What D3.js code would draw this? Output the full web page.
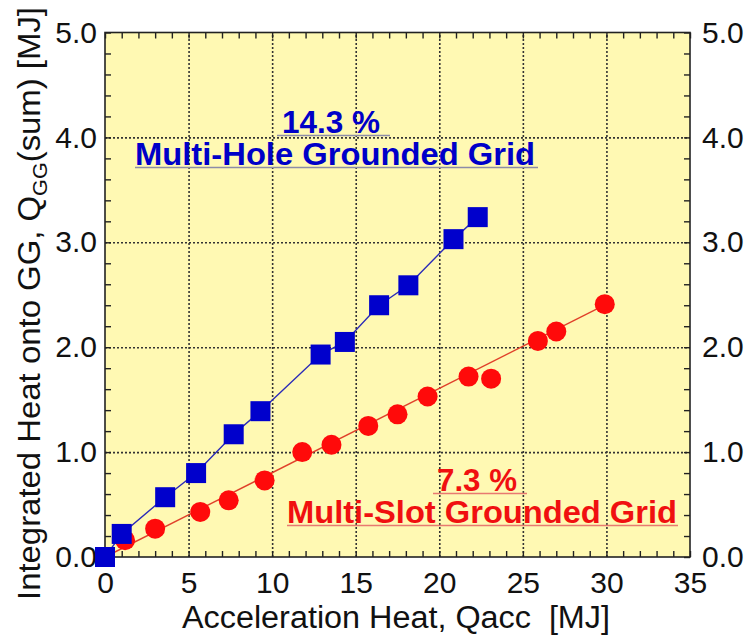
<!DOCTYPE html>
<html>
<head>
<meta charset="utf-8">
<script src="https://cdn.jsdelivr.net/npm/d3@7"></script>
<style>
  body { margin: 0; background: #fff; }
  svg text { font-family: "Liberation Sans", Arial, Helvetica, sans-serif; white-space: pre; }
</style>
</head>
<body>
<svg id="chart" width="751" height="635"></svg>
<script>
// data
const blueX = [0, 1.0, 3.6, 5.45, 7.7, 9.3, 12.9, 14.35, 16.4, 18.15, 20.85, 22.3]
const blueY = [0, 0.22, 0.57, 0.80, 1.17, 1.39, 1.93, 2.05, 2.40, 2.59, 3.03, 3.24]
const redX = [0, 1.2, 3.0, 5.7, 7.4, 9.55, 11.8, 13.55, 15.75, 17.5, 19.3, 21.75, 23.1, 25.9, 27.0, 29.9]
const redY = [0, 0.16, 0.27, 0.43, 0.54, 0.73, 1.00, 1.07, 1.25, 1.36, 1.53, 1.72, 1.70, 2.06, 2.15, 2.41]
// red straight line (fit) end points
const redLineX = [0, 30]
const redLineY = [0, 2.41]

const xTicks = [0, 5, 10, 15, 20, 25, 30, 35]
const yTicks = [0, 1, 2, 3, 4, 5]

const svg = d3.select('#chart')
const pLeft = 105, pRight = 690, pTop = 32.5, pBottom = 557

const x = d3.scaleLinear().domain([0, 35]).range([pLeft, pRight])
const y = d3.scaleLinear().domain([0, 5]).range([pBottom, pTop])

/* plot background */
svg.append('rect')
    .attr('x', pLeft).attr('y', pTop)
    .attr('width', pRight - pLeft).attr('height', pBottom - pTop)
    .attr('fill', '#fff9b3')

/* dotted grid */
const gridX = svg.append('g').attr('transform', `translate(0,${pBottom})`)
    .call(d3.axisBottom(x).tickValues(xTicks.slice(1, -1)).tickSize(-(pBottom - pTop)).tickFormat(''))
const gridY = svg.append('g').attr('transform', `translate(${pLeft},0)`)
    .call(d3.axisLeft(y).tickValues(yTicks.slice(1, -1)).tickSize(-(pRight - pLeft)).tickFormat(''))
;[gridX, gridY].forEach(g => {
    g.select('.domain').remove()
    g.selectAll('line').attr('stroke', '#333').attr('stroke-width', 1.6).attr('stroke-dasharray', '2,2')
})

/* minor ticks, inward on all four sides */
const xMinor = d3.range(0, 35.001, 1)
const yMinor = d3.range(0, 5.001, 0.2)
const tickG = [
    svg.append('g').attr('transform', `translate(0,${pBottom})`).call(d3.axisBottom(x).tickValues(xMinor).tickSize(-6).tickFormat('')),
    svg.append('g').attr('transform', `translate(0,${pTop})`).call(d3.axisTop(x).tickValues(xMinor).tickSize(-6).tickFormat('')),
    svg.append('g').attr('transform', `translate(${pLeft},0)`).call(d3.axisLeft(y).tickValues(yMinor).tickSize(-6).tickFormat('')),
    svg.append('g').attr('transform', `translate(${pRight},0)`).call(d3.axisRight(y).tickValues(yMinor).tickSize(-6).tickFormat(''))
]
tickG.forEach(g => {
    g.select('.domain').remove()
    g.selectAll('line').attr('stroke', '#222').attr('stroke-width', 1.4)
})

/* frame */
svg.append('rect')
    .attr('x', pLeft).attr('y', pTop)
    .attr('width', pRight - pLeft).attr('height', pBottom - pTop)
    .attr('fill', 'none').attr('stroke', '#222').attr('stroke-width', 1.6)

/* tick labels */
const labX = svg.append('g').attr('transform', `translate(0,${pBottom})`)
    .call(d3.axisBottom(x).tickValues(xTicks).tickSize(0).tickPadding(15))
const labL = svg.append('g').attr('transform', `translate(${pLeft},0)`)
    .call(d3.axisLeft(y).tickValues(yTicks).tickSize(0).tickPadding(8).tickFormat(d3.format('.1f')))
const labR = svg.append('g').attr('transform', `translate(${pRight},0)`)
    .call(d3.axisRight(y).tickValues(yTicks).tickSize(0).tickPadding(12).tickFormat(d3.format('.1f')))
;[labX, labL, labR].forEach(g => {
    g.select('.domain').remove()
    g.attr('font-size', null).attr('font-family', null)
    g.selectAll('text').attr('font-size', 30).attr('fill', '#111')
})

/* red fit line and circles */
const line = d3.line().x(d => x(d[0])).y(d => y(d[1]))
svg.append('path')
    .datum(d3.zip(redLineX, redLineY))
    .attr('d', line)
    .attr('fill', 'none').attr('stroke', '#e0402a').attr('stroke-width', 1.4)

svg.selectAll('.red_pt')
    .data(d3.zip(redX, redY))
    .join('circle')
    .classed('red_pt', true)
    .attr('cx', d => x(d[0])).attr('cy', d => y(d[1]))
    .attr('r', 10)
    .attr('fill', '#ff0a0a')

/* blue polyline and squares */
svg.append('path')
    .datum(d3.zip(blueX, blueY))
    .attr('d', line)
    .attr('fill', 'none').attr('stroke', '#2a2ab8').attr('stroke-width', 1.4)

const sq = 20
svg.selectAll('.blue_pt')
    .data(d3.zip(blueX, blueY))
    .join('rect')
    .classed('blue_pt', true)
    .attr('x', d => x(d[0]) - sq / 2).attr('y', d => y(d[1]) - sq / 2)
    .attr('width', sq).attr('height', sq)
    .attr('fill', '#0000cc')

/* annotations with underline */
const note = (txt, x0, base, len, size, color, ulColor, ulX0, ulX1) => {
    svg.append('line')
        .attr('x1', ulX0).attr('x2', ulX1)
        .attr('y1', base + 2.5).attr('y2', base + 2.5)
        .attr('stroke', ulColor).attr('stroke-width', 1.6)
    svg.append('text')
        .attr('x', x0).attr('y', base)
        .attr('font-size', size).attr('font-weight', 'bold')
        .attr('fill', color)
        .attr('textLength', len).attr('lengthAdjust', 'spacingAndGlyphs')
        .text(txt)
}
note('14.3 %', 282, 133, 98, 31, '#0000c8', '#8c8ca8', 277, 390)
note('Multi-Hole Grounded Grid', 135, 165, 400, 32, '#0000c8', '#8c8ca8', 135, 538)
note('7.3 %', 437, 491, 80, 31, '#f01010', '#e87a70', 433, 527)
note('Multi-Slot Grounded Grid', 287, 523, 390, 32, '#f01010', '#e87a70', 287, 678)

/* axis titles */
svg.append('text')
    .attr('x', 396).attr('y', 628)
    .attr('text-anchor', 'middle')
    .attr('font-size', 31).attr('fill', '#111')
    .attr('textLength', 428).attr('lengthAdjust', 'spacingAndGlyphs')
    .text('Acceleration Heat, Qacc  [MJ]')

const yt = svg.append('text')
    .attr('transform', 'translate(40,303.5) rotate(-90)')
    .attr('text-anchor', 'middle')
    .attr('font-size', 32).attr('fill', '#111')
    .attr('textLength', 593).attr('lengthAdjust', 'spacingAndGlyphs')
yt.append('tspan').text('Integrated Heat onto GG, Q')
yt.append('tspan').attr('font-size', 21).attr('dy', 7).text('GG')
yt.append('tspan').attr('dy', -7).text('(sum) [MJ]')
</script>
</body>
</html>
